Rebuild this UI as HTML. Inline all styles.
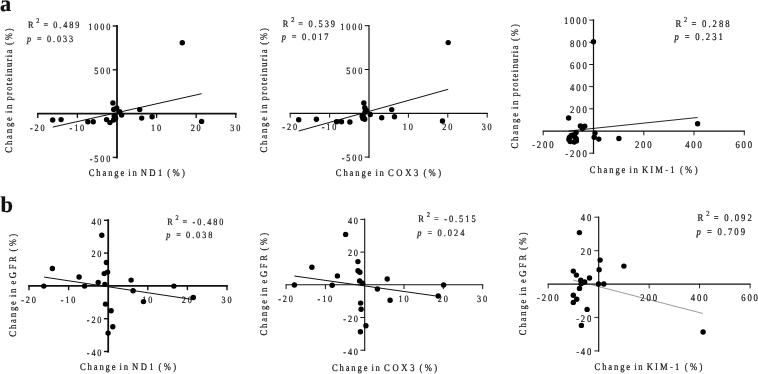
<!DOCTYPE html><html><head><meta charset="utf-8"><title>Figure</title><style>html,body{margin:0;padding:0;background:#fff}svg{display:block}text{font-family:"Liberation Serif", "DejaVu Serif", serif;fill:#111;stroke:#111;stroke-width:0.2px;text-rendering:geometricPrecision}</style></head><body>
<svg width="758" height="374" viewBox="0 0 758 374">
<rect width="758" height="374" fill="#fff"/>
<text x="0" y="10.6" font-size="22.5" font-weight="bold">a</text>
<text x="0.4" y="212.3" font-size="22.5" font-weight="bold">b</text>
<g stroke="#111" fill="none"><line x1="37.0" y1="113.6" x2="236.6" y2="113.6" stroke-width="1.8"/><line x1="117.0" y1="25.0" x2="117.0" y2="158.4" stroke-width="1.8"/><line x1="37.8" y1="113.6" x2="37.8" y2="117.9" stroke-width="1.35"/><line x1="77.4" y1="113.6" x2="77.4" y2="117.9" stroke-width="1.35"/><line x1="156.6" y1="113.6" x2="156.6" y2="117.9" stroke-width="1.35"/><line x1="196.2" y1="113.6" x2="196.2" y2="117.9" stroke-width="1.35"/><line x1="235.8" y1="113.6" x2="235.8" y2="117.9" stroke-width="1.35"/><line x1="112.7" y1="26.0" x2="117.0" y2="26.0" stroke-width="1.35"/><line x1="112.7" y1="69.8" x2="117.0" y2="69.8" stroke-width="1.35"/><line x1="112.7" y1="157.4" x2="117.0" y2="157.4" stroke-width="1.35"/><line x1="52.7" y1="127.1" x2="201.6" y2="93.7" stroke-width="1.0" stroke="#111"/></g>
<g fill="#000"><circle cx="182.3" cy="42.8" r="2.7"/><circle cx="52.7" cy="120.0" r="2.7"/><circle cx="61.1" cy="119.6" r="2.7"/><circle cx="87.8" cy="121.8" r="2.7"/><circle cx="93.2" cy="121.8" r="2.7"/><circle cx="106.6" cy="119.6" r="2.7"/><circle cx="109.9" cy="122.6" r="2.7"/><circle cx="113.6" cy="120.0" r="2.7"/><circle cx="115.6" cy="118.1" r="2.7"/><circle cx="114.2" cy="116.0" r="2.7"/><circle cx="112.9" cy="103.0" r="2.7"/><circle cx="113.7" cy="109.5" r="2.7"/><circle cx="116.7" cy="108.0" r="2.7"/><circle cx="119.6" cy="111.8" r="2.7"/><circle cx="121.6" cy="115.0" r="2.7"/><circle cx="139.7" cy="109.6" r="2.7"/><circle cx="141.7" cy="118.1" r="2.7"/><circle cx="152.1" cy="116.7" r="2.7"/><circle cx="201.6" cy="121.4" r="2.7"/></g>
<text transform="translate(38.22 130.50) scale(0.86 1)" font-size="9.6" text-anchor="middle" letter-spacing="2.15" stroke-width="0.42">-20</text><text transform="translate(77.83 130.50) scale(0.86 1)" font-size="9.6" text-anchor="middle" letter-spacing="2.15" stroke-width="0.42">-10</text><text transform="translate(157.03 130.50) scale(0.86 1)" font-size="9.6" text-anchor="middle" letter-spacing="2.15" stroke-width="0.42">10</text><text transform="translate(196.62 130.50) scale(0.86 1)" font-size="9.6" text-anchor="middle" letter-spacing="2.15" stroke-width="0.42">20</text><text transform="translate(236.23 130.50) scale(0.86 1)" font-size="9.6" text-anchor="middle" letter-spacing="2.15" stroke-width="0.42">30</text><text transform="translate(112.15 30.30) scale(0.86 1)" font-size="9.6" text-anchor="end" letter-spacing="2.15" stroke-width="0.42">1000</text><text transform="translate(112.15 74.10) scale(0.86 1)" font-size="9.6" text-anchor="end" letter-spacing="2.15" stroke-width="0.42">500</text><text transform="translate(112.15 161.70) scale(0.86 1)" font-size="9.6" text-anchor="end" letter-spacing="2.15" stroke-width="0.42">-500</text>
<text transform="translate(88.70 176.40) scale(0.86 1)" font-size="10.0"><tspan x="0.00" y="0.00" textLength="41.40" lengthAdjust="spacing">Change</tspan> <tspan x="46.05" y="0.00" textLength="9.77" lengthAdjust="spacing">in</tspan> <tspan x="60.58" y="0.00" textLength="24.88" lengthAdjust="spacing">ND1</tspan> <tspan x="91.40" y="0.00" textLength="20.47" lengthAdjust="spacing">(%)</tspan></text>
<text transform="translate(12.20 152.70) rotate(-90) scale(0.86 1)" font-size="10.0"><tspan x="0.00" y="0.00" textLength="41.40" lengthAdjust="spacing">Change</tspan> <tspan x="46.05" y="0.00" textLength="9.77" lengthAdjust="spacing">in</tspan> <tspan x="60.58" y="0.00" textLength="59.19" lengthAdjust="spacing">proteinuria</tspan> <tspan x="125.23" y="0.00" textLength="19.42" lengthAdjust="spacing">(%)</tspan></text>
<text transform="translate(28.00 28.00) scale(0.86 1)" font-size="9.6"><tspan x="0.00" y="0.00" letter-spacing="2.15">R</tspan> <tspan x="9.65" y="-4.60" letter-spacing="2.15" font-size="7.3">2</tspan> <tspan x="17.91" y="0.00" letter-spacing="2.21" word-spacing="-0.70">= 0.489</tspan></text>
<text transform="translate(28.00 42.00) scale(0.86 1)" font-size="9.6"><tspan x="-1.16" y="0.00" letter-spacing="2.15" font-style="italic">p</tspan> <tspan x="10.47" y="0.00" letter-spacing="2.21" word-spacing="-0.70">= 0.033</tspan></text>
<g stroke="#111" fill="none"><line x1="289.6" y1="113.3" x2="487.8" y2="113.3" stroke-width="1.2"/><line x1="369.0" y1="24.9" x2="369.0" y2="157.9" stroke-width="1.2"/><line x1="290.2" y1="113.3" x2="290.2" y2="117.6" stroke-width="1.0"/><line x1="329.6" y1="113.3" x2="329.6" y2="117.6" stroke-width="1.0"/><line x1="408.4" y1="113.3" x2="408.4" y2="117.6" stroke-width="1.0"/><line x1="447.8" y1="113.3" x2="447.8" y2="117.6" stroke-width="1.0"/><line x1="487.2" y1="113.3" x2="487.2" y2="117.6" stroke-width="1.0"/><line x1="364.7" y1="25.7" x2="369.0" y2="25.7" stroke-width="1.0"/><line x1="364.7" y1="69.5" x2="369.0" y2="69.5" stroke-width="1.0"/><line x1="364.7" y1="157.1" x2="369.0" y2="157.1" stroke-width="1.0"/><line x1="298.7" y1="131.0" x2="448.2" y2="89.3" stroke-width="1.0" stroke="#111"/></g>
<g fill="#000"><circle cx="448.2" cy="42.6" r="2.7"/><circle cx="298.7" cy="119.7" r="2.7"/><circle cx="316.4" cy="119.3" r="2.7"/><circle cx="336.6" cy="121.7" r="2.7"/><circle cx="341.5" cy="121.7" r="2.7"/><circle cx="349.9" cy="122.0" r="2.7"/><circle cx="363.8" cy="102.9" r="2.7"/><circle cx="364.8" cy="107.8" r="2.7"/><circle cx="366.3" cy="110.1" r="2.7"/><circle cx="370.3" cy="114.5" r="2.7"/><circle cx="362.1" cy="116.0" r="2.7"/><circle cx="362.9" cy="118.4" r="2.7"/><circle cx="364.7" cy="119.2" r="2.7"/><circle cx="381.7" cy="117.7" r="2.7"/><circle cx="391.7" cy="109.6" r="2.7"/><circle cx="394.5" cy="116.7" r="2.7"/><circle cx="442.5" cy="121.0" r="2.7"/><circle cx="365.0" cy="112.3" r="2.7"/><circle cx="363.6" cy="117.3" r="2.7"/></g>
<text transform="translate(290.62 130.20) scale(0.86 1)" font-size="9.6" text-anchor="middle" letter-spacing="2.15" stroke-width="0.42">-20</text><text transform="translate(330.03 130.20) scale(0.86 1)" font-size="9.6" text-anchor="middle" letter-spacing="2.15" stroke-width="0.42">-10</text><text transform="translate(408.82 130.20) scale(0.86 1)" font-size="9.6" text-anchor="middle" letter-spacing="2.15" stroke-width="0.42">10</text><text transform="translate(448.23 130.20) scale(0.86 1)" font-size="9.6" text-anchor="middle" letter-spacing="2.15" stroke-width="0.42">20</text><text transform="translate(487.62 130.20) scale(0.86 1)" font-size="9.6" text-anchor="middle" letter-spacing="2.15" stroke-width="0.42">30</text><text transform="translate(364.15 30.00) scale(0.86 1)" font-size="9.6" text-anchor="end" letter-spacing="2.15" stroke-width="0.42">1000</text><text transform="translate(364.15 73.80) scale(0.86 1)" font-size="9.6" text-anchor="end" letter-spacing="2.15" stroke-width="0.42">500</text><text transform="translate(364.15 161.40) scale(0.86 1)" font-size="9.6" text-anchor="end" letter-spacing="2.15" stroke-width="0.42">-500</text>
<text transform="translate(335.80 176.40) scale(0.86 1)" font-size="10.0"><tspan x="0.00" y="0.00" textLength="41.40" lengthAdjust="spacing">Change</tspan> <tspan x="46.05" y="0.00" textLength="9.77" lengthAdjust="spacing">in</tspan> <tspan x="60.58" y="0.00" textLength="35.47" lengthAdjust="spacing">COX3</tspan> <tspan x="101.86" y="0.00" textLength="20.47" lengthAdjust="spacing">(%)</tspan></text>
<text transform="translate(266.50 152.50) rotate(-90) scale(0.86 1)" font-size="10.0"><tspan x="0.00" y="0.00" textLength="41.40" lengthAdjust="spacing">Change</tspan> <tspan x="46.05" y="0.00" textLength="9.77" lengthAdjust="spacing">in</tspan> <tspan x="60.58" y="0.00" textLength="59.19" lengthAdjust="spacing">proteinuria</tspan> <tspan x="125.23" y="0.00" textLength="19.42" lengthAdjust="spacing">(%)</tspan></text>
<text transform="translate(282.70 26.90) scale(0.86 1)" font-size="9.75"><tspan x="0.00" y="0.00" letter-spacing="2.15">R</tspan> <tspan x="9.80" y="-4.67" letter-spacing="2.15" font-size="7.41">2</tspan> <tspan x="18.19" y="0.00" letter-spacing="2.24" word-spacing="-0.70">= 0.539</tspan></text>
<text transform="translate(282.70 39.90) scale(0.86 1)" font-size="9.75"><tspan x="-1.16" y="0.00" letter-spacing="2.15" font-style="italic">p</tspan> <tspan x="10.63" y="0.00" letter-spacing="2.24" word-spacing="-0.70">= 0.017</tspan></text>
<g stroke="#111" fill="none"><line x1="542.7" y1="131.0" x2="744.9" y2="131.0" stroke-width="1.25"/><line x1="593.5" y1="19.3" x2="593.5" y2="154.0" stroke-width="1.25"/><line x1="543.2" y1="131.0" x2="543.2" y2="135.3" stroke-width="0.95"/><line x1="643.8" y1="131.0" x2="643.8" y2="135.3" stroke-width="0.95"/><line x1="694.0" y1="131.0" x2="694.0" y2="135.3" stroke-width="0.95"/><line x1="744.3" y1="131.0" x2="744.3" y2="135.3" stroke-width="0.95"/><line x1="589.2" y1="20.1" x2="593.5" y2="20.1" stroke-width="0.95"/><line x1="589.2" y1="42.3" x2="593.5" y2="42.3" stroke-width="0.95"/><line x1="589.2" y1="64.5" x2="593.5" y2="64.5" stroke-width="0.95"/><line x1="589.2" y1="86.6" x2="593.5" y2="86.6" stroke-width="0.95"/><line x1="589.2" y1="108.8" x2="593.5" y2="108.8" stroke-width="0.95"/><line x1="589.2" y1="153.2" x2="593.5" y2="153.2" stroke-width="0.95"/><line x1="568.5" y1="131.0" x2="697.6" y2="117.5" stroke-width="0.9" stroke="#111"/></g>
<g fill="#000"><circle cx="593.5" cy="41.7" r="2.7"/><circle cx="568.6" cy="118.0" r="2.7"/><circle cx="580.4" cy="126.0" r="2.7"/><circle cx="584.7" cy="126.3" r="2.7"/><circle cx="582.5" cy="128.6" r="2.7"/><circle cx="576.1" cy="132.6" r="2.7"/><circle cx="573.4" cy="134.9" r="2.7"/><circle cx="571.2" cy="135.5" r="2.7"/><circle cx="568.9" cy="139.5" r="2.7"/><circle cx="570.2" cy="141.6" r="2.7"/><circle cx="574.2" cy="142.0" r="2.7"/><circle cx="576.2" cy="138.7" r="2.7"/><circle cx="576.4" cy="140.9" r="2.7"/><circle cx="574.8" cy="136.9" r="2.7"/><circle cx="569.4" cy="137.5" r="2.7"/><circle cx="595.0" cy="133.1" r="2.7"/><circle cx="594.2" cy="137.2" r="2.7"/><circle cx="598.8" cy="139.1" r="2.7"/><circle cx="618.9" cy="138.5" r="2.7"/><circle cx="697.6" cy="123.7" r="2.7"/></g>
<text transform="translate(543.66 148.20) scale(0.86 1)" font-size="10.1" text-anchor="middle" letter-spacing="2.15" stroke-width="0.42">-200</text><text transform="translate(644.18 148.20) scale(0.86 1)" font-size="10.1" text-anchor="middle" letter-spacing="2.15" stroke-width="0.42">200</text><text transform="translate(694.44 148.20) scale(0.86 1)" font-size="10.1" text-anchor="middle" letter-spacing="2.15" stroke-width="0.42">400</text><text transform="translate(744.70 148.20) scale(0.86 1)" font-size="10.1" text-anchor="middle" letter-spacing="2.15" stroke-width="0.42">600</text><text transform="translate(588.65 24.40) scale(0.86 1)" font-size="10.1" text-anchor="end" letter-spacing="2.15" stroke-width="0.42">1000</text><text transform="translate(588.65 46.58) scale(0.86 1)" font-size="10.1" text-anchor="end" letter-spacing="2.15" stroke-width="0.42">800</text><text transform="translate(588.65 68.76) scale(0.86 1)" font-size="10.1" text-anchor="end" letter-spacing="2.15" stroke-width="0.42">600</text><text transform="translate(588.65 90.94) scale(0.86 1)" font-size="10.1" text-anchor="end" letter-spacing="2.15" stroke-width="0.42">400</text><text transform="translate(588.65 113.12) scale(0.86 1)" font-size="10.1" text-anchor="end" letter-spacing="2.15" stroke-width="0.42">200</text><text transform="translate(588.65 157.48) scale(0.86 1)" font-size="10.1" text-anchor="end" letter-spacing="2.15" stroke-width="0.42">-200</text>
<text transform="translate(589.80 173.40) scale(0.86 1)" font-size="10.0"><tspan x="0.00" y="0.00" textLength="41.40" lengthAdjust="spacing">Change</tspan> <tspan x="46.05" y="0.00" textLength="9.77" lengthAdjust="spacing">in</tspan> <tspan x="60.58" y="0.00" textLength="37.91" lengthAdjust="spacing">KIM-1</tspan> <tspan x="104.77" y="0.00" textLength="20.47" lengthAdjust="spacing">(%)</tspan></text>
<text transform="translate(517.80 148.60) rotate(-90) scale(0.86 1)" font-size="10.0"><tspan x="0.00" y="0.00" textLength="41.40" lengthAdjust="spacing">Change</tspan> <tspan x="46.05" y="0.00" textLength="9.77" lengthAdjust="spacing">in</tspan> <tspan x="60.58" y="0.00" textLength="59.19" lengthAdjust="spacing">proteinuria</tspan> <tspan x="125.23" y="0.00" textLength="19.42" lengthAdjust="spacing">(%)</tspan></text>
<text transform="translate(675.40 26.70) scale(0.86 1)" font-size="10.1"><tspan x="0.00" y="0.00" letter-spacing="2.15">R</tspan> <tspan x="10.15" y="-4.84" letter-spacing="2.15" font-size="7.68">2</tspan> <tspan x="18.84" y="0.00" letter-spacing="2.32" word-spacing="-0.70">= 0.288</tspan></text>
<text transform="translate(675.40 40.30) scale(0.86 1)" font-size="10.1"><tspan x="-1.16" y="0.00" letter-spacing="2.15" font-style="italic">p</tspan> <tspan x="11.01" y="0.00" letter-spacing="2.32" word-spacing="-0.70">= 0.231</tspan></text>
<g stroke="#111" fill="none"><line x1="28.2" y1="285.9" x2="227.8" y2="285.9" stroke-width="1.8"/><line x1="108.2" y1="219.2" x2="108.2" y2="352.6" stroke-width="1.8"/><line x1="29.0" y1="285.9" x2="29.0" y2="290.2" stroke-width="1.4"/><line x1="68.6" y1="285.9" x2="68.6" y2="290.2" stroke-width="1.4"/><line x1="147.8" y1="285.9" x2="147.8" y2="290.2" stroke-width="1.4"/><line x1="187.4" y1="285.9" x2="187.4" y2="290.2" stroke-width="1.4"/><line x1="227.0" y1="285.9" x2="227.0" y2="290.2" stroke-width="1.4"/><line x1="103.9" y1="220.3" x2="108.2" y2="220.3" stroke-width="1.4"/><line x1="103.9" y1="253.1" x2="108.2" y2="253.1" stroke-width="1.4"/><line x1="103.9" y1="318.7" x2="108.2" y2="318.7" stroke-width="1.4"/><line x1="103.9" y1="351.5" x2="108.2" y2="351.5" stroke-width="1.4"/><line x1="44.1" y1="277.1" x2="193.3" y2="299.6" stroke-width="1.0" stroke="#111"/></g>
<g fill="#000"><circle cx="101.8" cy="235.3" r="2.7"/><circle cx="106.4" cy="262.5" r="2.7"/><circle cx="52.4" cy="268.5" r="2.7"/><circle cx="107.6" cy="272.1" r="2.7"/><circle cx="104.2" cy="273.6" r="2.7"/><circle cx="79.1" cy="277.0" r="2.7"/><circle cx="43.8" cy="286.1" r="2.7"/><circle cx="84.6" cy="286.1" r="2.7"/><circle cx="98.2" cy="282.4" r="2.7"/><circle cx="104.9" cy="284.4" r="2.7"/><circle cx="105.5" cy="304.1" r="2.7"/><circle cx="111.1" cy="310.8" r="2.7"/><circle cx="112.8" cy="326.8" r="2.7"/><circle cx="108.1" cy="333.1" r="2.7"/><circle cx="131.1" cy="280.1" r="2.7"/><circle cx="133.1" cy="290.8" r="2.7"/><circle cx="143.5" cy="301.6" r="2.7"/><circle cx="173.9" cy="286.1" r="2.7"/><circle cx="193.3" cy="297.5" r="2.7"/></g>
<text transform="translate(29.43 302.80) scale(0.86 1)" font-size="9.6" text-anchor="middle" letter-spacing="2.15" stroke-width="0.42">-20</text><text transform="translate(69.02 302.80) scale(0.86 1)" font-size="9.6" text-anchor="middle" letter-spacing="2.15" stroke-width="0.42">-10</text><text transform="translate(148.23 302.80) scale(0.86 1)" font-size="9.6" text-anchor="middle" letter-spacing="2.15" stroke-width="0.42">10</text><text transform="translate(187.83 302.80) scale(0.86 1)" font-size="9.6" text-anchor="middle" letter-spacing="2.15" stroke-width="0.42">20</text><text transform="translate(227.43 302.80) scale(0.86 1)" font-size="9.6" text-anchor="middle" letter-spacing="2.15" stroke-width="0.42">30</text><text transform="translate(103.35 224.60) scale(0.86 1)" font-size="9.6" text-anchor="end" letter-spacing="2.15" stroke-width="0.42">40</text><text transform="translate(103.35 257.40) scale(0.86 1)" font-size="9.6" text-anchor="end" letter-spacing="2.15" stroke-width="0.42">20</text><text transform="translate(103.35 323.00) scale(0.86 1)" font-size="9.6" text-anchor="end" letter-spacing="2.15" stroke-width="0.42">-20</text><text transform="translate(103.35 355.80) scale(0.86 1)" font-size="9.6" text-anchor="end" letter-spacing="2.15" stroke-width="0.42">-40</text>
<text transform="translate(80.00 369.60) scale(0.86 1)" font-size="10.0"><tspan x="0.00" y="0.00" textLength="41.40" lengthAdjust="spacing">Change</tspan> <tspan x="46.05" y="0.00" textLength="9.77" lengthAdjust="spacing">in</tspan> <tspan x="60.58" y="0.00" textLength="24.88" lengthAdjust="spacing">ND1</tspan> <tspan x="91.40" y="0.00" textLength="20.47" lengthAdjust="spacing">(%)</tspan></text>
<text transform="translate(15.90 336.70) rotate(-90) scale(0.86 1)" font-size="10.0"><tspan x="0.00" y="0.00" textLength="41.40" lengthAdjust="spacing">Change</tspan> <tspan x="46.05" y="0.00" textLength="9.77" lengthAdjust="spacing">in</tspan> <tspan x="60.58" y="0.00" textLength="33.02" lengthAdjust="spacing">eGFR</tspan> <tspan x="99.07" y="0.00" textLength="20.47" lengthAdjust="spacing">(%)</tspan></text>
<text transform="translate(167.20 224.70) scale(0.86 1)" font-size="9.6"><tspan x="0.00" y="0.00" letter-spacing="2.15">R</tspan> <tspan x="9.65" y="-4.60" letter-spacing="2.15" font-size="7.3">2</tspan> <tspan x="17.91" y="0.00" letter-spacing="2.21" word-spacing="-0.70">= -0.480</tspan></text>
<text transform="translate(167.20 238.30) scale(0.86 1)" font-size="9.6"><tspan x="-1.16" y="0.00" letter-spacing="2.15" font-style="italic">p</tspan> <tspan x="10.47" y="0.00" letter-spacing="2.21" word-spacing="-0.70">= 0.038</tspan></text>
<g stroke="#111" fill="none"><line x1="285.5" y1="284.8" x2="483.3" y2="284.8" stroke-width="1.1"/><line x1="364.7" y1="218.5" x2="364.7" y2="351.1" stroke-width="1.1"/><line x1="286.1" y1="284.8" x2="286.1" y2="289.1" stroke-width="1.0"/><line x1="325.4" y1="284.8" x2="325.4" y2="289.1" stroke-width="1.0"/><line x1="404.0" y1="284.8" x2="404.0" y2="289.1" stroke-width="1.0"/><line x1="443.3" y1="284.8" x2="443.3" y2="289.1" stroke-width="1.0"/><line x1="482.7" y1="284.8" x2="482.7" y2="289.1" stroke-width="1.0"/><line x1="360.4" y1="219.4" x2="364.7" y2="219.4" stroke-width="1.0"/><line x1="360.4" y1="252.1" x2="364.7" y2="252.1" stroke-width="1.0"/><line x1="360.4" y1="317.5" x2="364.7" y2="317.5" stroke-width="1.0"/><line x1="360.4" y1="350.2" x2="364.7" y2="350.2" stroke-width="1.0"/><line x1="294.4" y1="276.0" x2="438.9" y2="296.4" stroke-width="1.0" stroke="#111"/></g>
<g fill="#000"><circle cx="345.6" cy="234.4" r="2.7"/><circle cx="357.9" cy="261.6" r="2.7"/><circle cx="311.9" cy="267.3" r="2.7"/><circle cx="358.0" cy="270.8" r="2.7"/><circle cx="359.9" cy="272.2" r="2.7"/><circle cx="337.4" cy="275.9" r="2.7"/><circle cx="294.4" cy="285.0" r="2.7"/><circle cx="332.2" cy="285.2" r="2.7"/><circle cx="359.6" cy="281.0" r="2.7"/><circle cx="362.6" cy="283.3" r="2.7"/><circle cx="360.6" cy="303.1" r="2.7"/><circle cx="361.1" cy="309.3" r="2.7"/><circle cx="365.9" cy="325.8" r="2.7"/><circle cx="360.4" cy="331.7" r="2.7"/><circle cx="387.2" cy="279.0" r="2.7"/><circle cx="377.4" cy="289.0" r="2.7"/><circle cx="390.1" cy="300.2" r="2.7"/><circle cx="443.6" cy="285.0" r="2.7"/><circle cx="438.2" cy="296.0" r="2.7"/></g>
<text transform="translate(286.49 301.70) scale(0.86 1)" font-size="9.6" text-anchor="middle" letter-spacing="2.15" stroke-width="0.42">-20</text><text transform="translate(325.81 301.70) scale(0.86 1)" font-size="9.6" text-anchor="middle" letter-spacing="2.15" stroke-width="0.42">-10</text><text transform="translate(404.44 301.70) scale(0.86 1)" font-size="9.6" text-anchor="middle" letter-spacing="2.15" stroke-width="0.42">10</text><text transform="translate(443.76 301.70) scale(0.86 1)" font-size="9.6" text-anchor="middle" letter-spacing="2.15" stroke-width="0.42">20</text><text transform="translate(483.08 301.70) scale(0.86 1)" font-size="9.6" text-anchor="middle" letter-spacing="2.15" stroke-width="0.42">30</text><text transform="translate(359.85 223.66) scale(0.86 1)" font-size="9.6" text-anchor="end" letter-spacing="2.15" stroke-width="0.42">40</text><text transform="translate(359.85 256.38) scale(0.86 1)" font-size="9.6" text-anchor="end" letter-spacing="2.15" stroke-width="0.42">20</text><text transform="translate(359.85 321.82) scale(0.86 1)" font-size="9.6" text-anchor="end" letter-spacing="2.15" stroke-width="0.42">-20</text><text transform="translate(359.85 354.54) scale(0.86 1)" font-size="9.6" text-anchor="end" letter-spacing="2.15" stroke-width="0.42">-40</text>
<text transform="translate(331.90 371.20) scale(0.86 1)" font-size="10.0"><tspan x="0.00" y="0.00" textLength="41.40" lengthAdjust="spacing">Change</tspan> <tspan x="46.05" y="0.00" textLength="9.77" lengthAdjust="spacing">in</tspan> <tspan x="60.58" y="0.00" textLength="35.47" lengthAdjust="spacing">COX3</tspan> <tspan x="101.86" y="0.00" textLength="20.47" lengthAdjust="spacing">(%)</tspan></text>
<text transform="translate(267.00 335.60) rotate(-90) scale(0.86 1)" font-size="10.0"><tspan x="0.00" y="0.00" textLength="41.40" lengthAdjust="spacing">Change</tspan> <tspan x="46.05" y="0.00" textLength="9.77" lengthAdjust="spacing">in</tspan> <tspan x="60.58" y="0.00" textLength="33.02" lengthAdjust="spacing">eGFR</tspan> <tspan x="99.07" y="0.00" textLength="20.47" lengthAdjust="spacing">(%)</tspan></text>
<text transform="translate(418.30 222.10) scale(0.86 1)" font-size="9.8"><tspan x="0.00" y="0.00" letter-spacing="2.15">R</tspan> <tspan x="9.85" y="-4.70" letter-spacing="2.15" font-size="7.45">2</tspan> <tspan x="18.28" y="0.00" letter-spacing="2.26" word-spacing="-0.70">= -0.515</tspan></text>
<text transform="translate(418.30 236.00) scale(0.86 1)" font-size="9.8"><tspan x="-1.16" y="0.00" letter-spacing="2.15" font-style="italic">p</tspan> <tspan x="10.68" y="0.00" letter-spacing="2.26" word-spacing="-0.70">= 0.024</tspan></text>
<g stroke="#111" fill="none"><line x1="547.7" y1="284.1" x2="750.6" y2="284.1" stroke-width="1.15"/><line x1="598.7" y1="216.5" x2="598.7" y2="351.7" stroke-width="1.15"/><line x1="548.2" y1="284.1" x2="548.2" y2="288.4" stroke-width="0.9"/><line x1="649.2" y1="284.1" x2="649.2" y2="288.4" stroke-width="0.9"/><line x1="699.6" y1="284.1" x2="699.6" y2="288.4" stroke-width="0.9"/><line x1="750.1" y1="284.1" x2="750.1" y2="288.4" stroke-width="0.9"/><line x1="594.4" y1="217.2" x2="598.7" y2="217.2" stroke-width="0.9"/><line x1="594.4" y1="250.7" x2="598.7" y2="250.7" stroke-width="0.9"/><line x1="594.4" y1="317.4" x2="598.7" y2="317.4" stroke-width="0.9"/><line x1="594.4" y1="350.9" x2="598.7" y2="350.9" stroke-width="0.9"/><line x1="573.1" y1="280.0" x2="703.0" y2="313.5" stroke-width="0.6" stroke="#555"/></g>
<g fill="#000"><circle cx="579.4" cy="232.6" r="2.7"/><circle cx="600.1" cy="260.1" r="2.7"/><circle cx="623.9" cy="266.1" r="2.7"/><circle cx="599.1" cy="269.7" r="2.7"/><circle cx="573.3" cy="271.1" r="2.7"/><circle cx="576.4" cy="275.1" r="2.7"/><circle cx="589.5" cy="278.0" r="2.7"/><circle cx="580.8" cy="280.3" r="2.7"/><circle cx="584.7" cy="282.0" r="2.7"/><circle cx="581.1" cy="283.8" r="2.7"/><circle cx="579.5" cy="288.4" r="2.7"/><circle cx="598.5" cy="284.0" r="2.7"/><circle cx="603.8" cy="284.0" r="2.7"/><circle cx="573.3" cy="295.2" r="2.7"/><circle cx="576.7" cy="299.3" r="2.7"/><circle cx="573.3" cy="302.4" r="2.7"/><circle cx="587.1" cy="309.4" r="2.7"/><circle cx="581.4" cy="325.4" r="2.7"/><circle cx="703.1" cy="332.0" r="2.7"/></g>
<text transform="translate(548.66 301.35) scale(0.86 1)" font-size="10.1" text-anchor="middle" letter-spacing="2.15" stroke-width="0.42">-200</text><text transform="translate(649.59 301.35) scale(0.86 1)" font-size="10.1" text-anchor="middle" letter-spacing="2.15" stroke-width="0.42">200</text><text transform="translate(700.05 301.35) scale(0.86 1)" font-size="10.1" text-anchor="middle" letter-spacing="2.15" stroke-width="0.42">400</text><text transform="translate(750.50 301.35) scale(0.86 1)" font-size="10.1" text-anchor="middle" letter-spacing="2.15" stroke-width="0.42">600</text><text transform="translate(593.25 221.35) scale(0.86 1)" font-size="10.1" text-anchor="end" letter-spacing="2.15" stroke-width="0.42">40</text><text transform="translate(593.25 254.75) scale(0.86 1)" font-size="10.1" text-anchor="end" letter-spacing="2.15" stroke-width="0.42">20</text><text transform="translate(593.25 321.55) scale(0.86 1)" font-size="10.1" text-anchor="end" letter-spacing="2.15" stroke-width="0.42">-20</text><text transform="translate(593.25 354.95) scale(0.86 1)" font-size="10.1" text-anchor="end" letter-spacing="2.15" stroke-width="0.42">-40</text>
<text transform="translate(594.60 369.60) scale(0.86 1)" font-size="10.0"><tspan x="0.00" y="0.00" textLength="41.40" lengthAdjust="spacing">Change</tspan> <tspan x="46.05" y="0.00" textLength="9.77" lengthAdjust="spacing">in</tspan> <tspan x="60.58" y="0.00" textLength="37.91" lengthAdjust="spacing">KIM-1</tspan> <tspan x="104.77" y="0.00" textLength="20.47" lengthAdjust="spacing">(%)</tspan></text>
<text transform="translate(525.50 335.20) rotate(-90) scale(0.86 1)" font-size="10.0"><tspan x="0.00" y="0.00" textLength="41.40" lengthAdjust="spacing">Change</tspan> <tspan x="46.05" y="0.00" textLength="9.77" lengthAdjust="spacing">in</tspan> <tspan x="60.58" y="0.00" textLength="33.02" lengthAdjust="spacing">eGFR</tspan> <tspan x="99.07" y="0.00" textLength="20.47" lengthAdjust="spacing">(%)</tspan></text>
<text transform="translate(697.60 221.20) scale(0.86 1)" font-size="10.1"><tspan x="0.00" y="0.00" letter-spacing="2.15">R</tspan> <tspan x="10.15" y="-4.84" letter-spacing="2.15" font-size="7.68">2</tspan> <tspan x="18.84" y="0.00" letter-spacing="2.32" word-spacing="-0.70">= 0.092</tspan></text>
<text transform="translate(697.60 235.00) scale(0.86 1)" font-size="10.1"><tspan x="-1.16" y="0.00" letter-spacing="2.15" font-style="italic">p</tspan> <tspan x="11.01" y="0.00" letter-spacing="2.32" word-spacing="-0.70">= 0.709</tspan></text>
</svg></body></html>
